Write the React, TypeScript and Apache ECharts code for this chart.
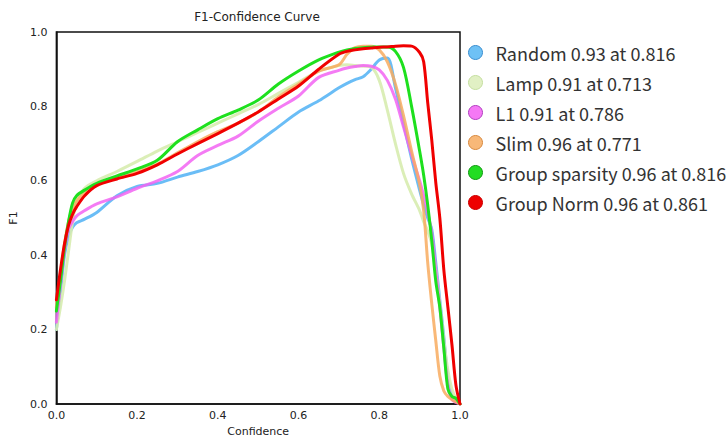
import React, { useEffect, useRef } from "react";
import * as echarts from "echarts";

const confidence = [0, 0.01, 0.02, 0.03, 0.04, 0.05, 0.07, 0.1, 0.15, 0.2, 0.25, 0.3, 0.35, 0.4, 0.45, 0.5, 0.55, 0.6, 0.65, 0.7, 0.72, 0.74, 0.76, 0.78, 0.8, 0.82, 0.84, 0.86, 0.88, 0.9, 0.91, 0.92, 0.93, 0.94, 0.95, 0.96, 0.97, 0.98, 0.99, 1.0];

const randomF1 = [0.2, 0.3, 0.4, 0.45, 0.475, 0.487, 0.497, 0.515, 0.56, 0.585, 0.593, 0.61, 0.625, 0.643, 0.668, 0.705, 0.745, 0.785, 0.815, 0.85, 0.862, 0.872, 0.88, 0.9, 0.925, 0.93, 0.85, 0.755, 0.66, 0.575, 0.535, 0.5, 0.47, 0.38, 0.28, 0.18, 0.07, 0.025, 0.012, 0.0];
const lampF1 = [0.2, 0.26, 0.33, 0.41, 0.49, 0.545, 0.58, 0.6, 0.625, 0.652, 0.68, 0.705, 0.73, 0.755, 0.78, 0.805, 0.835, 0.865, 0.895, 0.91, 0.912, 0.91, 0.908, 0.905, 0.87, 0.79, 0.7, 0.62, 0.565, 0.52, 0.49, 0.465, 0.43, 0.36, 0.27, 0.17, 0.09, 0.04, 0.015, 0.0];
const l1F1 = [0.22, 0.32, 0.41, 0.47, 0.49, 0.505, 0.52, 0.538, 0.557, 0.58, 0.6, 0.625, 0.668, 0.695, 0.72, 0.76, 0.795, 0.828, 0.878, 0.897, 0.903, 0.907, 0.91, 0.908, 0.898, 0.87, 0.82, 0.745, 0.67, 0.6, 0.56, 0.515, 0.46, 0.36, 0.26, 0.15, 0.05, 0.012, 0.004, 0.0];
const slimF1 = [0.26, 0.35, 0.43, 0.49, 0.525, 0.545, 0.568, 0.59, 0.607, 0.625, 0.645, 0.675, 0.705, 0.732, 0.755, 0.785, 0.825, 0.86, 0.895, 0.912, 0.94, 0.958, 0.962, 0.962, 0.952, 0.92, 0.86, 0.775, 0.68, 0.59, 0.52, 0.38, 0.27, 0.17, 0.075, 0.035, 0.02, 0.012, 0.006, 0.0];
const groupSparsityF1 = [0.25, 0.33, 0.42, 0.49, 0.54, 0.56, 0.575, 0.593, 0.613, 0.632, 0.655, 0.705, 0.737, 0.767, 0.79, 0.817, 0.86, 0.895, 0.925, 0.946, 0.952, 0.956, 0.958, 0.959, 0.96, 0.96, 0.948, 0.905, 0.8, 0.68, 0.615, 0.535, 0.44, 0.33, 0.26, 0.15, 0.04, 0.02, 0.015, 0.0];
const groupNormF1 = [0.28, 0.36, 0.43, 0.48, 0.51, 0.53, 0.56, 0.587, 0.605, 0.62, 0.643, 0.672, 0.7, 0.727, 0.755, 0.785, 0.82, 0.855, 0.9, 0.94, 0.948, 0.952, 0.955, 0.957, 0.959, 0.96, 0.962, 0.963, 0.962, 0.945, 0.92, 0.81, 0.71, 0.595, 0.5, 0.36, 0.26, 0.16, 0.05, 0.0];

const seriesNames = [
  "Random 0.93 at 0.816",
  "Lamp 0.91 at 0.713",
  "L1 0.91 at 0.786",
  "Slim 0.96 at 0.771",
  "Group sparsity 0.96 at 0.816",
  "Group Norm 0.96 at 0.861",
];
const seriesValues = [randomF1, lampF1, l1F1, slimF1, groupSparsityF1, groupNormF1];
const lineColors = ["rgba(80,178,245,0.85)", "rgba(215,236,175,0.9)", "rgba(242,100,242,0.85)", "rgba(248,172,95,0.85)", "#1ee01e", "#f00000"];
const legendFill = ["#6ec1f5", "#e1f0c4", "#f578f5", "#f8b878", "#22dd22", "#ee0000"];
const legendBorder = ["#3b8ed0", "#c5dfa0", "#b040c0", "#d88a40", "#119911", "#cc0000"];

export default function App() {
  const ref = useRef<HTMLDivElement>(null);
  useEffect(() => {
    if (!ref.current) return;
    const chart = echarts.init(ref.current, null, { renderer: "svg" });
    const tickFont = { fontFamily: "DejaVu Sans", fontSize: 11, color: "#222" };
    chart.setOption({
      animation: false,
      backgroundColor: "#fff",
      graphic: [
        {
          type: "text",
          x: 257,
          y: 17,
          style: {
            text: "F1-Confidence Curve",
            fontFamily: "DejaVu Sans",
            fontSize: 12,
            fill: "#222",
            textAlign: "center",
            textVerticalAlign: "middle",
          },
        },
      ],
      grid: {
        left: 54,
        top: 32,
        width: 406,
        height: 378,
        show: true,
        borderColor: "#111",
        borderWidth: 1.5,
        backgroundColor: "transparent",
      },
      legend: {
        orient: "vertical",
        left: 463,
        top: 38,
        itemWidth: 14,
        itemHeight: 14,
        itemGap: 11,
        icon: "circle",
        textStyle: { fontFamily: "Noto Sans CJK SC", fontSize: 18, color: "#333", lineHeight: 19, padding: [0, 0, 0, 8] },
        data: seriesNames.map((n, i) => ({
          name: n,
          itemStyle: { color: legendFill[i], borderColor: legendBorder[i], borderWidth: 1 },
        })),
      },
      xAxis: {
        type: "value",
        min: 0,
        max: 1,
        interval: 0.2,
        name: "Confidence",
        nameLocation: "middle",
        nameGap: 22,
        nameTextStyle: tickFont,
        axisLine: { show: true, lineStyle: { color: "#111", width: 1.5 } },
        axisTick: { show: false },
        splitLine: { show: false },
        axisLabel: { ...tickFont, margin: 6, formatter: (v: number) => v.toFixed(1) },
      },
      yAxis: {
        type: "value",
        min: 0,
        max: 1,
        interval: 0.2,
        name: "F1",
        nameLocation: "middle",
        nameGap: 36,
        nameTextStyle: tickFont,
        axisLine: { show: true, lineStyle: { color: "#111", width: 1.5 } },
        axisTick: { show: false },
        splitLine: { show: false },
        axisLabel: { ...tickFont, margin: 9, formatter: (v: number) => v.toFixed(1) },
      },
      series: seriesNames.map((n, i) => ({
        name: n,
        type: "line",
        data: confidence.map((c, j) => [c, seriesValues[i][j]]),
        smooth: 0.3,
        showSymbol: false,
        symbol: "none",
        lineStyle: { color: lineColors[i], width: 3, join: "round", cap: "round" },
        itemStyle: { color: legendFill[i] },
        z: 2 + i,
      })),
    });
    return () => chart.dispose();
  }, []);
  return (
    <div
      ref={ref}
      style={{ position: "fixed", left: 0, top: 0, width: 726, height: 442, background: "#fff" }}
    />
  );
}
